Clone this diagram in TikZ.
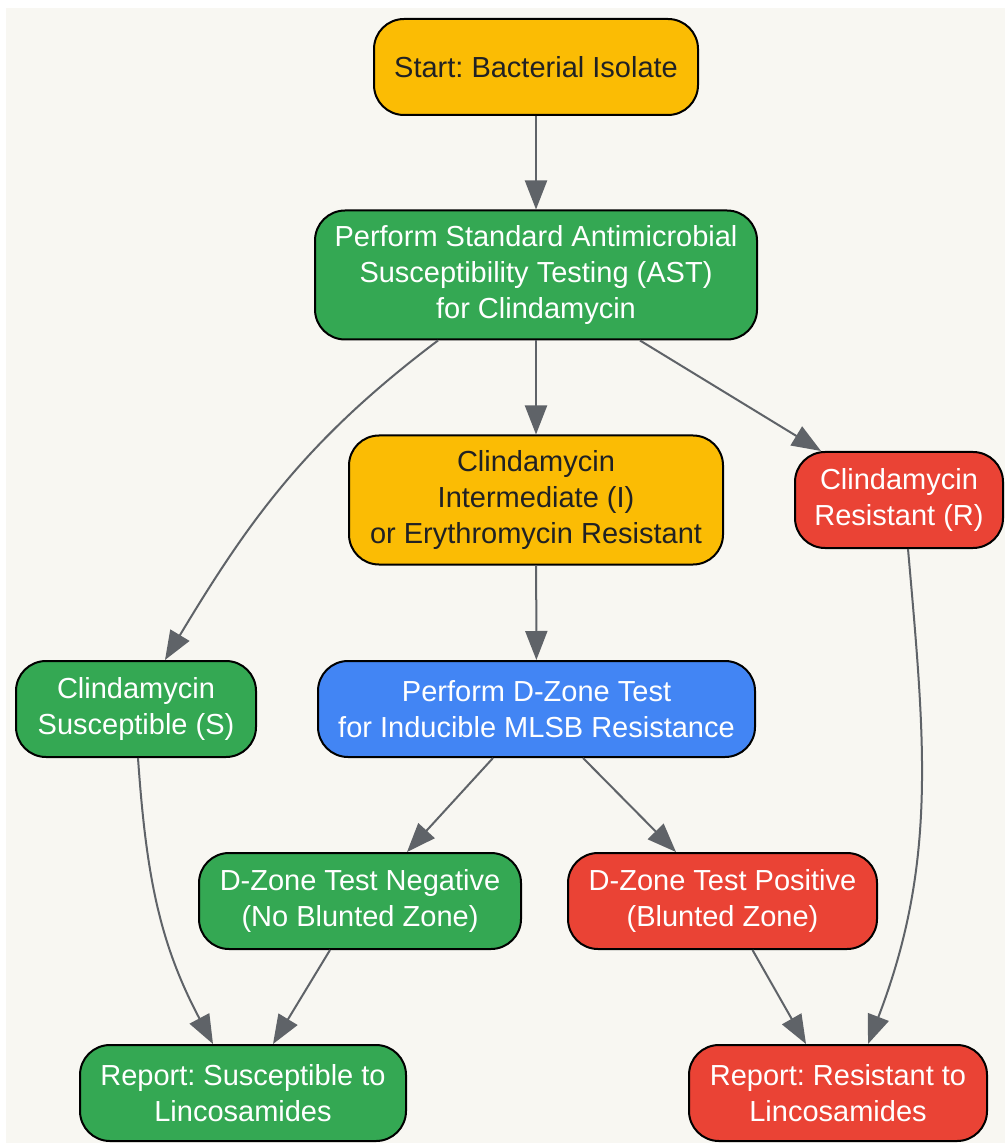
\documentclass[tikz,border=0pt]{standalone}
\usepackage{fontspec}
\setmainfont{Liberation Sans}
\usetikzlibrary{arrows.meta}
\definecolor{gyellow}{HTML}{FBBC04}
\definecolor{ggreen}{HTML}{34A853}
\definecolor{gred}{HTML}{EA4335}
\definecolor{gblue}{HTML}{4285F4}
\definecolor{gdark}{HTML}{202124}
\definecolor{garrow}{HTML}{5F6368}
\definecolor{gback}{HTML}{F8F7F2}
\frenchspacing

\begin{document}
\begin{tikzpicture}[x=0.5pt, y=-0.5pt,
  box/.style={draw=black, line width=1pt, rounded corners=15pt, align=center,
    minimum height=48pt, inner sep=0pt, font=\fontsize{14.5}{18}\selectfont},
  yel/.style={box, fill=gyellow, text=gdark},
  grn/.style={box, fill=ggreen, text=white},
  rd/.style={box, fill=gred, text=white},
  blu/.style={box, fill=gblue, text=white},
  arr/.style={draw=garrow, line width=1pt, -{Triangle[length=14.5pt,width=11pt]}}]

\useasboundingbox (0,0) rectangle (1005,1143);
\fill[gback] (6,8) rectangle (1005,1143);

% boxes
\node[yel, minimum width=162pt] (start) at (536,67) {Start: Bacterial Isolate};
\node[grn, minimum width=221pt, minimum height=64.5pt] (ast) at (536,275)
  {Perform Standard Antimicrobial\\Susceptibility Testing (AST)\\for Clindamycin};
\node[yel, minimum width=187pt, minimum height=64.5pt] (inter) at (536,500)
  {Clindamycin\\Intermediate (I)\\or Erythromycin Resistant};
\node[rd, minimum width=104pt] (resR) at (899,500) {Clindamycin\\Resistant (R)};
\node[grn, minimum width=120pt] (susS) at (136,709) {Clindamycin\\Susceptible (S)};
\node[blu, minimum width=218.5pt] (dzone) at (536.5,709)
  {Perform D-Zone Test\\for Inducible MLSB Resistance};
\node[grn, minimum width=161pt] (neg) at (360,901) {D-Zone Test Negative\\(No Blunted Zone)};
\node[rd, minimum width=154.5pt] (pos) at (722.5,901) {D-Zone Test Positive\\(Blunted Zone)};
\node[grn, minimum width=163pt] (repS) at (243,1093) {Report: Susceptible to\\Lincosamides};
\node[rd, minimum width=149pt] (repR) at (838,1093) {Report: Resistant to\\Lincosamides};

% connectors
\draw[arr] (start) -- (ast);
\draw[arr] ([xshift=-49pt]ast.south) to[out=-143, in=59] ([xshift=14.5pt]susS.north);
\draw[arr] (ast) -- (inter);
\draw[arr] ([xshift=52pt]ast.south) -- ([xshift=-39pt]resR.north);
\draw[arr] (inter) -- (dzone);
\draw[arr] ([xshift=1pt]susS.south) to[out=-86, in=118] ([xshift=-15pt]repS.north);
\draw[arr] ([xshift=-21.75pt]dzone.south) -- ([xshift=23.5pt]neg.north);
\draw[arr] ([xshift=23.25pt]dzone.south) -- ([xshift=-23.25pt]pos.north);
\draw[arr] ([xshift=-15pt]neg.south) -- ([xshift=15pt]repS.north);
\draw[arr] ([xshift=15pt]pos.south) -- ([xshift=-16pt]repR.north);
\draw[arr] ([xshift=4.5pt]resR.south) to[out=-85, in=69] ([xshift=15pt]repR.north);
\end{tikzpicture}
\end{document}
